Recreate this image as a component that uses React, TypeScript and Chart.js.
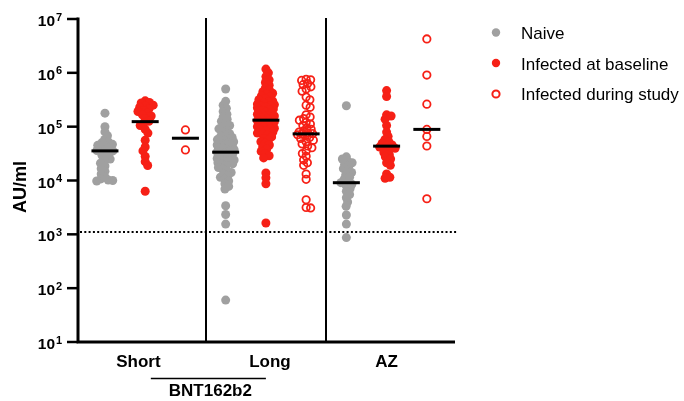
import React, { useEffect, useRef } from "react";
import { Chart, registerables } from "chart.js";
Chart.register(...registerables);

// ---------- data ----------
const categories = ["Short", "Long", "AZ"];
const seriesNames = ["Naive", "Infected at baseline", "Infected during study"];
const vaccineLabel = "BNT162b2";
const yTicks = [10, 100, 1000, 10000, 100000, 1000000, 10000000];
const thresholdValue = 1100;

const shortNaive = [178000, 100000, 80000, 68000, 58000, 52000, 50000, 47000, 45000, 43000, 40000, 38000, 36000, 35500, 34000, 32000, 29500, 27500, 25000, 23000, 21000, 18600, 16600, 14800, 13200, 11700, 10700, 10000, 9800, 10200];
const shortBaseline = [302000, 282000, 275000, 251000, 240000, 229000, 214000, 200000, 191000, 178000, 166000, 158000, 141000, 126000, 117000, 105000, 89000, 76000, 56000, 42000, 35500, 28000, 22400, 19000, 6300];
const shortDuring = [87000, 37000];

const longNaive = [501000, 295000, 251000, 219000, 191000, 170000, 151000, 138000, 126000, 115000, 105000, 97700, 91200, 85100, 79400, 74100, 69200, 66100, 63100, 60300, 57500, 55000, 52500, 50100, 49000, 46800, 45700, 43700, 42700, 40700, 39800, 38000, 37200, 35500, 34700, 33900, 32400, 31600, 30200, 29500, 28200, 27500, 26300, 25700, 24500, 24000, 22900, 22400, 21400, 20400, 20000, 18600, 17400, 16200, 15100, 14100, 13200, 12300, 11500, 10700, 9770, 8710, 7760, 6920, 3390, 2340, 1550, 60];
const longBaseline = [1175000, 1000000, 851000, 741000, 661000, 589000, 525000, 479000, 447000, 417000, 398000, 372000, 355000, 331000, 316000, 302000, 288000, 275000, 263000, 257000, 245000, 240000, 229000, 224000, 214000, 209000, 200000, 195000, 186000, 182000, 174000, 170000, 162000, 158000, 151000, 148000, 141000, 138000, 132000, 129000, 123000, 120000, 115000, 112000, 107000, 105000, 100000, 97700, 93300, 91200, 87100, 83200, 79400, 75900, 72400, 69200, 64600, 60300, 56200, 52500, 49000, 45700, 41700, 38000, 34700, 31600, 28800, 26300, 13800, 11200, 8710, 1620];
const longDuring = [759000, 741000, 724000, 631000, 603000, 550000, 501000, 457000, 355000, 316000, 251000, 229000, 166000, 151000, 141000, 132000, 120000, 112000, 105000, 95500, 89100, 83200, 79400, 75900, 74100, 72400, 70800, 67600, 63100, 60300, 56200, 52500, 47900, 43700, 40700, 35500, 31600, 28200, 24000, 21400, 19100, 13200, 10500, 4370, 3160, 3090];

const azNaive = [245000, 27500, 25100, 22900, 21400, 20000, 18600, 16600, 15100, 14100, 12600, 11500, 10500, 9550, 9120, 8510, 7940, 7080, 6310, 5500, 4790, 3980, 3310, 2290, 1550, 870];
const azBaseline = [468000, 363000, 166000, 158000, 138000, 105000, 79400, 66100, 57500, 52500, 49000, 45700, 43700, 41700, 39800, 36300, 33100, 30200, 27500, 25100, 21400, 19100, 13200, 11500, 11000];
const azDuring = [4260000, 910000, 262000, 89000, 66000, 43700, 4580];

// medians per group (Short N/B/D, Long N/B/D, AZ N/B/D)
const medians = [35500, 124000, 61000, 33600, 132000, 73500, 9100, 43500, 89000];

const groups = [shortNaive, shortBaseline, shortDuring, longNaive, longBaseline, longDuring, azNaive, azBaseline, azDuring];

// ---------- style / layout ----------
const GRAY = "rgb(160,160,160)";
const RED = "rgb(246,32,22)";
const FONT = '"Liberation Sans", Arial, Helvetica, sans-serif';
const X_MIN = -0.67, X_MAX = 8.7;
const PX_PER_X = 40.25, PX_PER_DEC = 53.83;
const categoryLabelX = [0.83, 4.1, 7.0];
const SWARM_MIN_DIST = 4.5;
const SWARM_MAX_OFF = 8.5;

function swarm(values: number[], center: number) {
  const order = values.slice().sort((a, b) => b - a);
  const placed: { px: number; py: number }[] = [];
  const out: { x: number; y: number }[] = [];
  order.forEach((v, k) => {
    const py = Math.log10(v) * PX_PER_DEC;
    let chosen = 0;
    let found = false;
    let bestClear = -1;
    let bestCand = 0;
    const steps = Math.round(SWARM_MAX_OFF / 0.25);
    for (let s = 0; s <= steps * 2; s++) {
      const mag = Math.ceil(s / 2) * 0.25;
      const sign = (s % 2 === 0 ? 1 : -1) * (k % 2 === 0 ? 1 : -1);
      const cand = s === 0 ? 0 : sign * mag;
      let clear = Infinity;
      for (const p of placed) {
        const d = Math.sqrt((p.px - cand) ** 2 + (p.py - py) ** 2);
        if (d < clear) clear = d;
      }
      if (clear >= SWARM_MIN_DIST) {
        chosen = cand;
        found = true;
        break;
      }
      if (clear > bestClear + 0.01) {
        bestClear = clear;
        bestCand = cand;
      }
    }
    if (!found) chosen = bestCand;
    placed.push({ px: chosen, py });
    out.push({ x: center + chosen / PX_PER_X, y: v });
  });
  return out;
}

const decorPlugin = {
  id: "decor",
  beforeDatasetsDraw(chart: any) {
    const { ctx, chartArea, scales } = chart;
    const x = scales.x, y = scales.y;
    ctx.save();
    ctx.strokeStyle = "#000";
    ctx.lineWidth = 2;
    [2.5, 5.5].forEach((v) => {
      const px = Math.round(x.getPixelForValue(v));
      ctx.beginPath();
      ctx.moveTo(px, chartArea.top - 1);
      ctx.lineTo(px, chartArea.bottom);
      ctx.stroke();
    });
    const ty = y.getPixelForValue(thresholdValue);
    ctx.setLineDash([2, 2.3]);
    ctx.lineWidth = 2;
    ctx.beginPath();
    ctx.moveTo(chartArea.left + 2, ty);
    ctx.lineTo(chartArea.right + 2, ty);
    ctx.stroke();
    ctx.restore();
  },
  afterDatasetsDraw(chart: any) {
    const { ctx, scales } = chart;
    const x = scales.x, y = scales.y;
    ctx.save();
    ctx.strokeStyle = "#000";
    ctx.lineWidth = 3;
    medians.forEach((m, i) => {
      const px = x.getPixelForValue(i);
      const py = y.getPixelForValue(m);
      ctx.beginPath();
      ctx.moveTo(px - 13.5, py);
      ctx.lineTo(px + 13.5, py);
      ctx.stroke();
    });
    ctx.restore();
  },
  afterDraw(chart: any) {
    const { ctx, chartArea, scales } = chart;
    const x = scales.x, y = scales.y;
    ctx.save();
    ctx.fillStyle = "#000";
    ctx.strokeStyle = "#000";
    // axes
    ctx.lineWidth = 3;
    ctx.beginPath();
    ctx.moveTo(chartArea.left, chartArea.top - 1.5);
    ctx.lineTo(chartArea.left, chartArea.bottom + 1.5);
    ctx.moveTo(chartArea.left - 1.5, chartArea.bottom);
    ctx.lineTo(chartArea.right, chartArea.bottom);
    ctx.stroke();
    // y ticks + labels
    ctx.lineWidth = 2.5;
    yTicks.forEach((t) => {
      const py = y.getPixelForValue(t);
      ctx.beginPath();
      ctx.moveTo(chartArea.left - 11, py);
      ctx.lineTo(chartArea.left, py);
      ctx.stroke();
      const exp = String(Math.round(Math.log10(t)));
      ctx.font = `bold 15.5px ${FONT}`;
      ctx.textAlign = "right";
      ctx.textBaseline = "alphabetic";
      ctx.fillText("10", 55, py + 7);
      ctx.font = `bold 11px ${FONT}`;
      ctx.textAlign = "left";
      ctx.fillText(exp, 56, py + 1.5);
    });
    // y title
    ctx.save();
    ctx.translate(26, 187);
    ctx.rotate(-Math.PI / 2);
    ctx.font = `bold 18px ${FONT}`;
    ctx.textAlign = "center";
    ctx.textBaseline = "alphabetic";
    ctx.fillText("AU/ml", 0, 0);
    ctx.restore();
    // category labels
    ctx.font = `bold 17px ${FONT}`;
    ctx.textAlign = "center";
    ctx.textBaseline = "alphabetic";
    categories.forEach((c, i) => {
      ctx.fillText(c, x.getPixelForValue(categoryLabelX[i]), 366.5);
    });
    // bracket for BNT162b2
    ctx.lineWidth = 1.5;
    ctx.beginPath();
    ctx.moveTo(x.getPixelForValue(1.14), 378.5);
    ctx.lineTo(x.getPixelForValue(4.0), 378.5);
    ctx.stroke();
    ctx.fillText(vaccineLabel, x.getPixelForValue(2.62), 396);
    // legend
    const rows = [32.5, 63, 94];
    const bases = [39, 69.5, 100];
    ctx.font = `17px ${FONT}`;
    ctx.textAlign = "left";
    seriesNames.forEach((name, i) => {
      ctx.beginPath();
      if (i < 2) {
        ctx.fillStyle = i === 0 ? GRAY : RED;
        ctx.arc(496, rows[i], 4.2, 0, Math.PI * 2);
        ctx.fill();
      } else {
        ctx.strokeStyle = RED;
        ctx.lineWidth = 2;
        ctx.arc(496, rows[i], 3.6, 0, Math.PI * 2);
        ctx.stroke();
      }
      ctx.fillStyle = "#000";
      ctx.fillText(name, 521, bases[i]);
    });
    ctx.restore();
  },
};

export default function App() {
  const ref = useRef<HTMLCanvasElement | null>(null);
  useEffect(() => {
    if (!ref.current) return;
    const seriesData: { x: number; y: number }[][] = [[], [], []];
    groups.forEach((vals, i) => {
      seriesData[i % 3].push(...swarm(vals, i));
    });
    const chart = new Chart(ref.current, {
      type: "scatter",
      data: {
        datasets: [
          { label: seriesNames[0], data: seriesData[0], pointRadius: 4.5, backgroundColor: GRAY, borderColor: GRAY, borderWidth: 0 },
          { label: seriesNames[1], data: seriesData[1], pointRadius: 4.5, backgroundColor: RED, borderColor: RED, borderWidth: 0 },
          { label: seriesNames[2], data: seriesData[2], pointRadius: 3.7, backgroundColor: "rgba(0,0,0,0)", borderColor: RED, borderWidth: 1.8 },
        ],
      } as any,
      options: {
        animation: false,
        responsive: false,
        events: [],
        layout: { padding: { top: 19, right: 229, left: 0, bottom: 0 } },
        plugins: { legend: { display: false }, tooltip: { enabled: false } },
        scales: {
          x: {
            type: "linear",
            min: X_MIN,
            max: X_MAX,
            grid: { display: false },
            border: { display: false },
            ticks: { display: false },
            afterFit: (s: any) => { s.height = 59; },
          },
          y: {
            type: "logarithmic",
            min: 10,
            max: 10000000,
            grid: { display: false },
            border: { display: false },
            ticks: { display: false },
            afterFit: (s: any) => { s.width = 78; },
          },
        },
      } as any,
      plugins: [decorPlugin],
    });
    return () => chart.destroy();
  }, []);
  return (
    <div style={{ position: "absolute", left: 0, top: 0, width: 684, height: 401, background: "#fff" }}>
      <canvas ref={ref} width={684} height={401} style={{ width: 684, height: 401 }} />
    </div>
  );
}
